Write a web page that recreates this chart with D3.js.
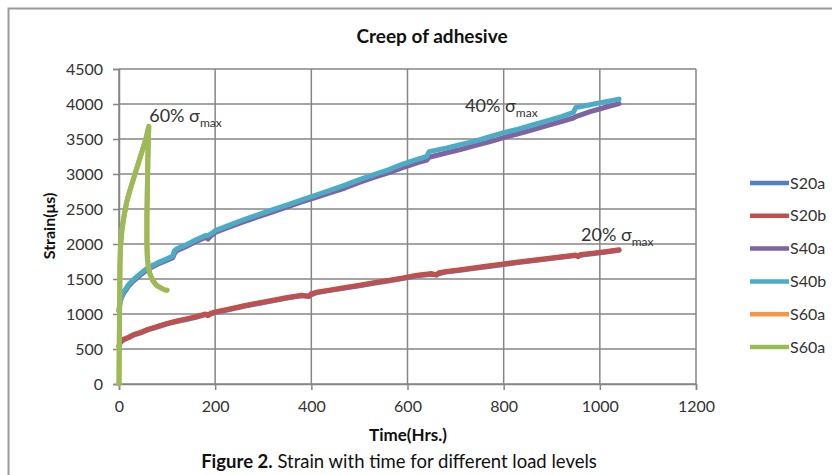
<!DOCTYPE html>
<html>
<head>
<meta charset="utf-8">
<script src="https://cdn.jsdelivr.net/npm/d3@7"></script>
<style>
  html, body { margin: 0; padding: 0; background: #fff; }
  svg { display: block; font-family: Lato, "Open Sans", sans-serif; }
</style>
</head>
<body>
<svg id="chart" width="832" height="475"></svg>
<script>
// Creep test readings: strain (µs) against time (hours) for three load levels.
const xTicks = [0, 200, 400, 600, 800, 1000, 1200];
const yTicks = [0, 500, 1000, 1500, 2000, 2500, 3000, 3500, 4000, 4500];

const seriesNames = ["S20a", "S20b", "S40a", "S40b", "S60a", "S60a"];
const seriesColors = ["#4F81BD", "#C0504D", "#8064A2", "#4BACC6", "#F79646", "#9BBB59"];

// 20% of max stress
const hours20 = [0, 2, 5, 10, 20, 30, 45, 60, 80, 100,
  120, 140, 160, 180, 185, 190, 200, 230, 260, 290,
  320, 350, 380, 395, 400, 410, 440, 470, 500, 530,
  560, 590, 620, 650, 660, 665, 680, 710, 740, 770,
  800, 830, 860, 890, 920, 950, 955, 960, 980, 1010,
  1040];
const s20a = [535, 578, 605, 632, 660, 697, 730, 772, 814, 858,
  892, 922, 954, 992, 985, 996, 1022, 1064, 1110, 1150,
  1188, 1228, 1262, 1258, 1276, 1302, 1337, 1370, 1404, 1440,
  1472, 1507, 1546, 1568, 1565, 1574, 1598, 1624, 1652, 1680,
  1708, 1734, 1760, 1784, 1810, 1835, 1830, 1838, 1858, 1882,
  1910];
const s20b = [550, 590, 615, 642, 668, 705, 738, 780, 822, 866,
  900, 930, 962, 1000, 975, 1008, 1030, 1072, 1118, 1158,
  1196, 1236, 1270, 1250, 1292, 1310, 1345, 1378, 1412, 1448,
  1480, 1515, 1555, 1578, 1555, 1590, 1606, 1632, 1660, 1688,
  1716, 1742, 1768, 1792, 1818, 1843, 1820, 1850, 1866, 1890,
  1918];

// 40% of max stress
const hours40 = [0, 1, 2, 5, 10, 20, 30, 45, 60, 80,
  100, 112, 115, 120, 140, 160, 180, 185, 190, 200,
  230, 260, 290, 320, 350, 380, 410, 440, 470, 500,
  530, 560, 590, 620, 640, 645, 680, 710, 740, 770,
  800, 830, 860, 890, 920, 945, 950, 980, 1010, 1040];
const s40a = [1040, 1105, 1155, 1235, 1300, 1400, 1470, 1560, 1640, 1710,
  1770, 1805, 1860, 1905, 1965, 2035, 2095, 2070, 2110, 2165,
  2245, 2320, 2390, 2460, 2530, 2600, 2665, 2735, 2800, 2880,
  2950, 3015, 3090, 3160, 3200, 3240, 3300, 3350, 3405, 3460,
  3520, 3575, 3630, 3690, 3750, 3800, 3820, 3890, 3950, 4005];
const s40b = [1050, 1120, 1170, 1250, 1320, 1420, 1490, 1580, 1660, 1730,
  1790, 1830, 1900, 1930, 1990, 2060, 2120, 2120, 2140, 2190,
  2270, 2350, 2420, 2490, 2560, 2630, 2700, 2770, 2840, 2920,
  2990, 3060, 3140, 3210, 3250, 3320, 3370, 3420, 3470, 3530,
  3590, 3640, 3700, 3760, 3820, 3880, 3950, 3990, 4030, 4070];

// 60% of max stress
const hours60 = [0, 1, 2, 3, 6, 10, 16, 22, 30, 40,
  51, 57, 62, 61, 60, 59, 58, 58, 59, 61,
  64, 70, 78, 88, 95, 100];
const s60orange = [0, 900, 1700, 1950, 2200, 2380, 2600, 2750, 2930, 3150,
  3390, 3530, 3680, 3500, 3200, 2800, 2400, 2000, 1800, 1680,
  1580, 1480, 1410, 1370, 1345, 1340];
const s60green = [0, 900, 1700, 1950, 2200, 2380, 2600, 2750, 2930, 3150,
  3390, 3530, 3680, 3500, 3200, 2800, 2400, 2000, 1800, 1680,
  1580, 1480, 1410, 1370, 1345, 1340];

// Annotations for each load level
const loadLabels = [
  { pct: "60%", t: 67, s: 3745 },
  { pct: "40%", t: 724, s: 3890 },
  { pct: "20%", t: 965, s: 2040 }
];

const series = [
  { x: hours20, y: s20a },
  { x: hours20, y: s20b },
  { x: hours40, y: s40a },
  { x: hours40, y: s40b },
  { x: hours60, y: s60orange },
  { x: hours60, y: s60green }
].map((d, i) => ({
  name: seriesNames[i],
  color: seriesColors[i],
  points: d.x.map((t, k) => [t, d.y[k]])
}));

const svg = d3.select("#chart");
const W = 832, H = 475;
const plot = { left: 119, right: 696, top: 69, bottom: 384 };

const x = d3.scaleLinear().domain([0, 1200]).range([plot.left, plot.right]);
const y = d3.scaleLinear().domain([0, 4500]).range([plot.bottom, plot.top]);

// chart frame
svg.append("rect")
  .attr("x", 8.5).attr("y", 8.5)
  .attr("width", W + 20).attr("height", H + 20)
  .attr("fill", "#fff").attr("stroke", "#9a9a9a").attr("stroke-width", 2);

const gridColor = "#868686";

// gridlines
svg.append("g").selectAll("line").data(yTicks).join("line")
  .attr("x1", plot.left).attr("x2", plot.right)
  .attr("y1", d => y(d)).attr("y2", d => y(d))
  .attr("stroke", gridColor).attr("stroke-width", 1.5);
svg.append("g").selectAll("line").data(xTicks).join("line")
  .attr("x1", d => x(d)).attr("x2", d => x(d))
  .attr("y1", plot.top).attr("y2", plot.bottom)
  .attr("stroke", gridColor).attr("stroke-width", 1.5);

// axes
const yAxis = svg.append("g")
  .attr("transform", `translate(${plot.left},0)`)
  .call(d3.axisLeft(y).tickValues(yTicks).tickSize(6).tickPadding(10).tickFormat(d3.format("d")));
const xAxis = svg.append("g")
  .attr("transform", `translate(0,${plot.bottom})`)
  .call(d3.axisBottom(x).tickValues(xTicks).tickSize(6).tickPadding(10).tickFormat(d3.format("d")));

[yAxis, xAxis].forEach(g => {
  g.select(".domain").attr("stroke", gridColor).attr("stroke-width", 1.5);
  g.selectAll(".tick line").attr("stroke", gridColor).attr("stroke-width", 1.5);
  g.selectAll(".tick text").attr("fill", "#333").attr("font-size", 16)
    .attr("font-family", "Lato, sans-serif");
});
yAxis.selectAll(".tick text").attr("dy", "0.35em");
xAxis.selectAll(".tick text").attr("dy", "0.78em");

// series lines
const line = d3.line().x(d => x(d[0])).y(d => y(d[1]));
svg.append("g").selectAll("path").data(series).join("path")
  .attr("d", d => line(d.points))
  .attr("fill", "none")
  .attr("stroke", d => d.color)
  .attr("stroke-width", 5)
  .attr("stroke-linejoin", "round")
  .attr("stroke-linecap", "round");

// load-level annotations
const ann = svg.append("g").attr("fill", "#333").attr("font-family", "Lato, sans-serif");
loadLabels.forEach(l => {
  const t = ann.append("text")
    .attr("x", x(l.t) - 2).attr("y", y(l.s))
    .attr("font-size", 18);
  t.append("tspan").text(l.pct + " σ");
  t.append("tspan").attr("font-size", 12).attr("dy", 5).text("max");
});

// title and axis titles
svg.append("text")
  .attr("x", 432).attr("y", 43)
  .attr("text-anchor", "middle")
  .attr("font-size", 19).attr("font-weight", "bold").attr("fill", "#111")
  .text("Creep of adhesive");

svg.append("text")
  .attr("x", 408).attr("y", 441)
  .attr("text-anchor", "middle")
  .attr("font-size", 17).attr("font-weight", "bold").attr("fill", "#111")
  .text("Time(Hrs.)");

svg.append("text")
  .attr("transform", "translate(55,226) rotate(-90)")
  .attr("text-anchor", "middle")
  .attr("font-size", 16).attr("font-weight", "bold").attr("fill", "#111")
  .text("Strain(μs)");

// caption
const cap = svg.append("text")
  .attr("x", 399).attr("y", 468)
  .attr("text-anchor", "middle")
  .attr("font-size", 18.5).attr("fill", "#111");
cap.append("tspan").attr("font-weight", "bold").text("Figure 2.");
cap.append("tspan").text(" Strain with time for different load levels");

// legend
const legend = svg.append("g").attr("transform", "translate(750,183)");
const item = legend.selectAll("g").data(series).join("g")
  .attr("transform", (d, i) => `translate(0,${i * 32.8})`);
item.append("line")
  .attr("x1", 0).attr("x2", 39).attr("y1", 0).attr("y2", 0)
  .attr("stroke", d => d.color).attr("stroke-width", 4.5);
item.append("text")
  .attr("x", 40).attr("y", 0).attr("dy", "0.35em")
  .attr("font-size", 16).attr("fill", "#333")
  .text(d => d.name);
</script>
</body>
</html>
